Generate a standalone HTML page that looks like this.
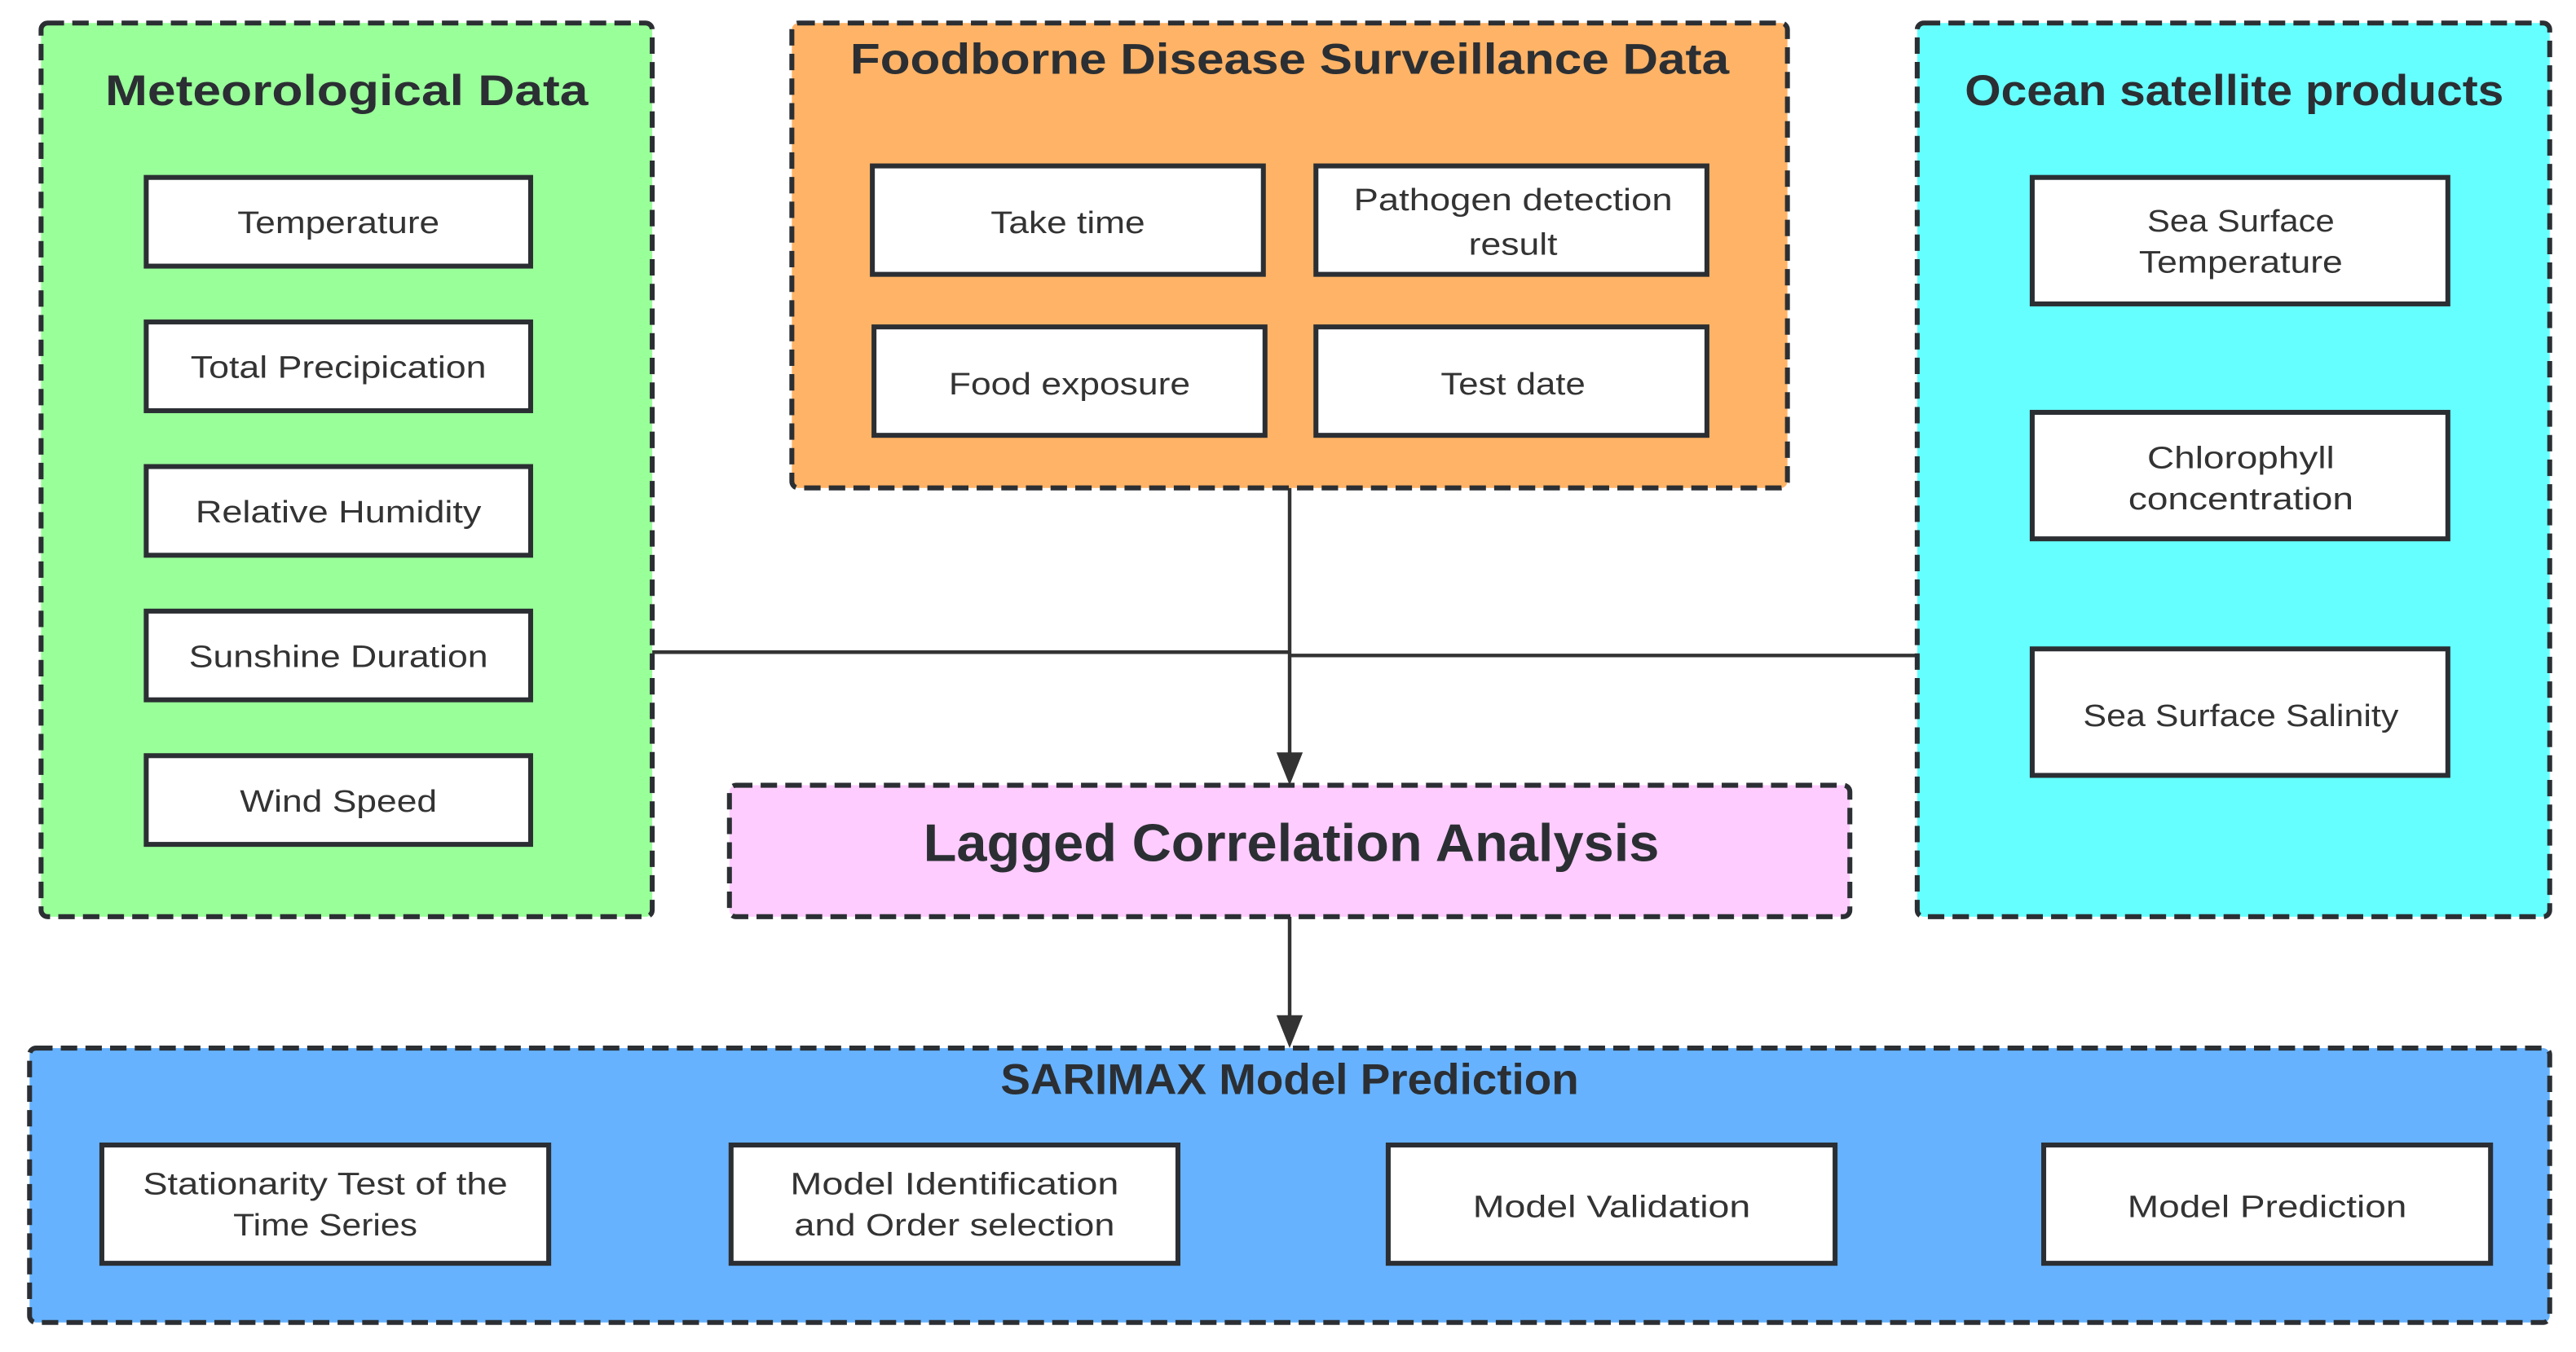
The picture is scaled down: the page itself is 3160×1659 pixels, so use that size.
<!DOCTYPE html>
<html><head><meta charset="utf-8"><style>html,body{margin:0;padding:0;background:#fff}svg{display:block}</style></head>
<body>
<svg width="3160" height="1659" viewBox="0 0 1568 823" preserveAspectRatio="none" xmlns="http://www.w3.org/2000/svg">
<g font-family="Liberation Sans, sans-serif" fill="#333">
<g stroke="#333" stroke-width="2.2" fill="none">
<line x1="397" y1="397" x2="785" y2="397"/>
<line x1="785" y1="399" x2="1167" y2="399"/>
<line x1="785" y1="297" x2="785" y2="462"/>
<line x1="785" y1="558" x2="785" y2="622"/>
<line x1="334" y1="733" x2="430" y2="733"/>
<line x1="717" y1="733" x2="830" y2="733"/>
<line x1="1117" y1="733" x2="1229" y2="733"/>
</g>
<polygon points="777,458 793,458 785,478" fill="#333"/>
<polygon points="777,618 793,618 785,638" fill="#333"/>
<polygon points="428,725 428,741 446,733" fill="#333"/>
<polygon points="827,725 827,741 845,733" fill="#333"/>
<polygon points="1226,725 1226,741 1244,733" fill="#333"/>

<g stroke="#2b2f33" stroke-width="3" stroke-dasharray="10 5">
<rect x="25" y="14" width="372" height="544" rx="4" fill="#99ff99"/>
<rect x="482" y="14" width="606" height="283" rx="4" fill="#ffb366"/>
<rect x="1167" y="14" width="385" height="544" rx="4" fill="#66ffff"/>
<rect x="444" y="478" width="682" height="80" rx="4" fill="#ffccff"/>
<rect x="18" y="638" width="1534" height="167" rx="4" fill="#66b2ff"/>
</g>

<g font-weight="bold" font-size="26" text-anchor="middle" fill="#2b2f33">
<text x="211" y="64" textLength="294" lengthAdjust="spacingAndGlyphs">Meteorological Data</text>
<text x="785" y="45" textLength="535" lengthAdjust="spacingAndGlyphs">Foodborne Disease Surveillance Data</text>
<text x="1360" y="64" textLength="328" lengthAdjust="spacingAndGlyphs">Ocean satellite products</text>
<text x="786" y="524" font-size="32" textLength="448" lengthAdjust="spacingAndGlyphs">Lagged Correlation Analysis</text>
<text x="785" y="666" textLength="352" lengthAdjust="spacingAndGlyphs">SARIMAX Model Prediction</text>
</g>

<g fill="#fff" stroke="#2b2f33" stroke-width="3">
<rect x="89" y="108" width="234" height="54"/>
<rect x="89" y="196" width="234" height="54"/>
<rect x="89" y="284" width="234" height="54"/>
<rect x="89" y="372" width="234" height="54"/>
<rect x="89" y="460" width="234" height="54"/>
<rect x="531" y="101" width="238" height="66"/>
<rect x="801" y="101" width="238" height="66"/>
<rect x="532" y="199" width="238" height="66"/>
<rect x="801" y="199" width="238" height="66"/>
<rect x="1237" y="108" width="253" height="77"/>
<rect x="1237" y="251" width="253" height="77"/>
<rect x="1237" y="395" width="253" height="77"/>
<rect x="62" y="697" width="272" height="72"/>
<rect x="445" y="697" width="272" height="72"/>
<rect x="845" y="697" width="272" height="72"/>
<rect x="1244" y="697" width="272" height="72"/>
</g>

<g font-size="19" text-anchor="middle" fill="#333">
<text x="206" y="142" textLength="123" lengthAdjust="spacingAndGlyphs">Temperature</text>
<text x="206" y="230" textLength="180" lengthAdjust="spacingAndGlyphs">Total Precipication</text>
<text x="206" y="318" textLength="174" lengthAdjust="spacingAndGlyphs">Relative Humidity</text>
<text x="206" y="406" textLength="182" lengthAdjust="spacingAndGlyphs">Sunshine Duration</text>
<text x="206" y="494" textLength="120" lengthAdjust="spacingAndGlyphs">Wind Speed</text>
<text x="650" y="142" textLength="94" lengthAdjust="spacingAndGlyphs">Take time</text>
<text x="921" y="128" textLength="194" lengthAdjust="spacingAndGlyphs">Pathogen detection</text>
<text x="921" y="155" textLength="54" lengthAdjust="spacingAndGlyphs">result</text>
<text x="651" y="240" textLength="147" lengthAdjust="spacingAndGlyphs">Food exposure</text>
<text x="921" y="240" textLength="88" lengthAdjust="spacingAndGlyphs">Test date</text>
<text x="1364" y="141" textLength="114" lengthAdjust="spacingAndGlyphs">Sea Surface</text>
<text x="1364" y="166" textLength="124" lengthAdjust="spacingAndGlyphs">Temperature</text>
<text x="1364" y="285" textLength="114" lengthAdjust="spacingAndGlyphs">Chlorophyll</text>
<text x="1364" y="310" textLength="137" lengthAdjust="spacingAndGlyphs">concentration</text>
<text x="1364" y="442" textLength="192" lengthAdjust="spacingAndGlyphs">Sea Surface Salinity</text>
<text x="198" y="727" textLength="222" lengthAdjust="spacingAndGlyphs">Stationarity Test of the</text>
<text x="198" y="752" textLength="112" lengthAdjust="spacingAndGlyphs">Time Series</text>
<text x="581" y="727" textLength="200" lengthAdjust="spacingAndGlyphs">Model Identification</text>
<text x="581" y="752" textLength="195" lengthAdjust="spacingAndGlyphs">and Order selection</text>
<text x="981" y="741" textLength="169" lengthAdjust="spacingAndGlyphs">Model Validation</text>
<text x="1380" y="741" textLength="170" lengthAdjust="spacingAndGlyphs">Model Prediction</text>
</g>
</g>
</svg>
</body></html>
